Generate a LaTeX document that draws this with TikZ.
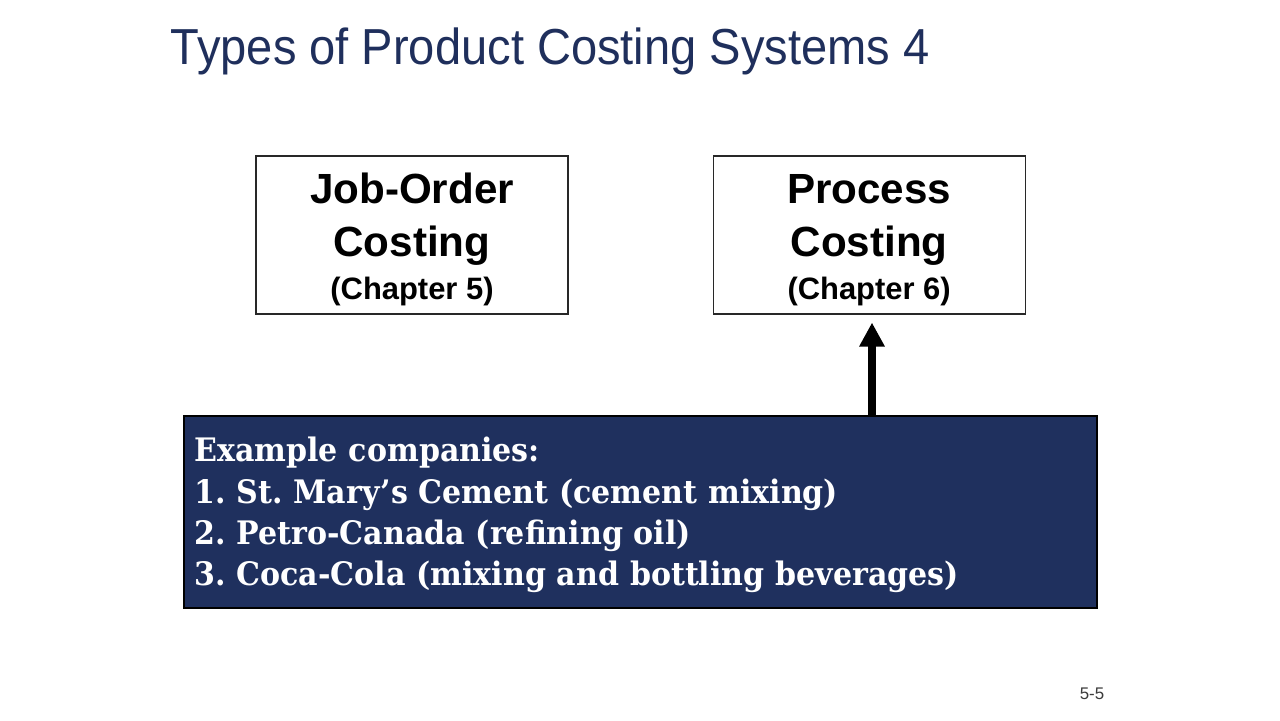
\documentclass[tikz,border=0pt]{standalone}
\usepackage{fontspec}
\setmainfont{Liberation Sans}
\newfontfamily\slabfont[FakeStretch=0.93]{DejaVu Serif}
\usetikzlibrary{arrows.meta, positioning}
\definecolor{titlecolor}{RGB}{31, 47, 92}
\definecolor{navycolor}{RGB}{31, 48, 94}
\definecolor{linecolor}{RGB}{40, 40, 40}
\definecolor{pagecolor}{RGB}{60, 60, 60}
\tikzstyle{costbox} = [draw=linecolor, rectangle, minimum width=7.8cm, minimum height=3.95cm, align=center, inner sep=0pt, font=\bfseries\fontsize{30}{38.3}\selectfont, line width=0.8pt]
\tikzstyle{examplebox} = [draw=black, rectangle, fill=navycolor, minimum width=22.825cm, minimum height=4.8cm, inner xsep=0.25cm, text width=22.3cm, align=left, text=white, font=\slabfont\bfseries\fontsize{23}{29.4}\selectfont, line width=1pt]
\tikzstyle{arrow} = [line width=5pt, -{Triangle[length=0.6cm, width=0.6cm]}, color=black]

\begin{document}
\frenchspacing
\begin{tikzpicture}

\useasboundingbox [fill=white] (0,0) rectangle (32,18);

% Nodes
\node (title) [anchor=base west, text=titlecolor, font=\fontsize{36}{40}\selectfont] at (4.15,16.375) {\scalebox{0.93}[1]{Types of Product Costing Systems 4}};

\node (job) [costbox] at (10.3,12.125) {\rule{0pt}{28pt}Job-Order\\Costing\\[-7.8pt]{\fontsize{22}{26}\selectfont (Chapter 5)}};

\node (proc) [costbox, right=3.6cm of job] {\rule{0pt}{28pt}Process\\Costing\\[-7.8pt]{\fontsize{22}{26}\selectfont (Chapter 6)}};

\node (blue) [examplebox] at (16.01,5.2) {\rule{0pt}{22pt}Example companies:\\1. St. Mary’s Cement (cement mixing)\\2. Petro-Canada (refining oil)\\3. Coca-Cola (mixing and bottling beverages)};

\node (page) [anchor=base, text=pagecolor, font=\fontsize{12}{14}\selectfont] at (27.3,0.525) {5-5};

\coordinate (tail) at ([xshift=5.79cm]blue.north);

% Arrows
\draw [arrow, shorten >=0.2cm] (tail) -- (tail |- proc.south);

\end{tikzpicture}
\end{document}
